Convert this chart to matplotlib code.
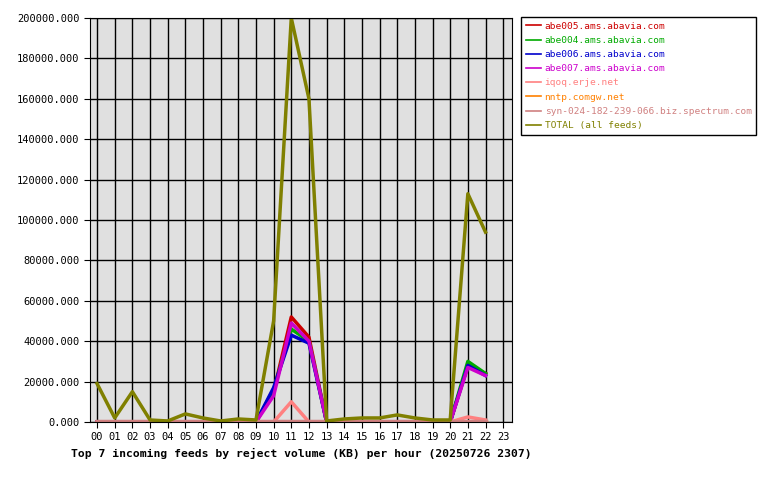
import matplotlib
matplotlib.use('Agg')
from matplotlib import pyplot as plt

hours = list(range(23))
hour_labels = [f'{h:02d}' for h in range(24)]

abe005 = [0, 0, 0, 0, 0, 0, 0, 0, 0, 0, 15000, 52000, 42000, 0, 0, 0, 0, 0, 0, 0, 0, 28000, 24000]
abe004 = [0, 0, 0, 0, 0, 0, 0, 0, 0, 0, 16000, 46000, 40000, 0, 0, 0, 0, 0, 0, 0, 0, 30000, 24000]
abe006 = [0, 0, 0, 0, 0, 0, 0, 0, 0, 0, 17000, 43000, 39000, 0, 0, 0, 0, 0, 0, 0, 0, 28000, 23000]
abe007 = [0, 0, 0, 0, 0, 0, 0, 0, 0, 0, 13000, 49000, 40000, 0, 0, 0, 0, 0, 0, 0, 0, 27000, 23000]
iqoq = [0, 0, 0, 0, 0, 0, 0, 0, 0, 0, 0, 10000, 0, 0, 0, 0, 0, 0, 0, 0, 0, 2500, 1000]
nntp = [0] * 23
syn = [500] * 23
total = [19000, 2000, 15000, 1000, 500, 4000, 2000, 500, 1500, 1000, 50000, 200000, 160000,
         500, 1500, 2000, 2000, 3500, 2000, 1000, 1000, 113000, 94000]

series = [
    ('abe005.ams.abavia.com', abe005, '#cc0000'),
    ('abe004.ams.abavia.com', abe004, '#00aa00'),
    ('abe006.ams.abavia.com', abe006, '#0000cc'),
    ('abe007.ams.abavia.com', abe007, '#cc00cc'),
    ('iqoq.erje.net', iqoq, '#ff8080'),
    ('nntp.comgw.net', nntp, '#ff8000'),
    ('syn-024-182-239-066.biz.spectrum.com', syn, '#d08080'),
    ('TOTAL (all feeds)', total, '#808000'),
]

plt.rcParams['font.family'] = 'DejaVu Sans Mono'
plt.rcParams['font.size'] = 7.5
fig = plt.figure(figsize=[7.8, 4.8], dpi=100)
ax = fig.add_axes([90 / 780, 58 / 480, 422 / 780, 404 / 480])
ax.set_facecolor('#e0e0e0')
for name, vals, col in series:
    ax.plot(hours, vals, color=col, lw=2.5, label=name)
ax.set_xlim(-0.4, 23.5)
ax.set_ylim(0, 200000)
ax.set_xticks(range(24))
ax.set_xticklabels(hour_labels)
ax.set_yticks(range(0, 200001, 20000))
ax.set_yticklabels([f'{v}.000' for v in range(0, 200001, 20000)])
ax.grid(True, color='black', lw=1)
ax.set_axisbelow(True)
ax.tick_params(length=4, color='black')
ax.set_xlabel('Top 7 incoming feeds by reject volume (KB) per hour (20250726 2307)',
              fontweight='bold', fontsize=8.2)
leg = fig.legend(loc='upper left', bbox_to_anchor=(521 / 780, 1 - 17 / 480), fancybox=False,
                 edgecolor='black', framealpha=1, handlelength=1.6, handletextpad=0.4,
                 fontsize=6.8, borderpad=0.5, labelspacing=0.55, borderaxespad=0)
for text, (_, _, col) in zip(leg.get_texts(), series):
    text.set_color(col)
for line in leg.get_lines():
    line.set_linewidth(1.2)
fig.savefig('out.png', dpi=100)
